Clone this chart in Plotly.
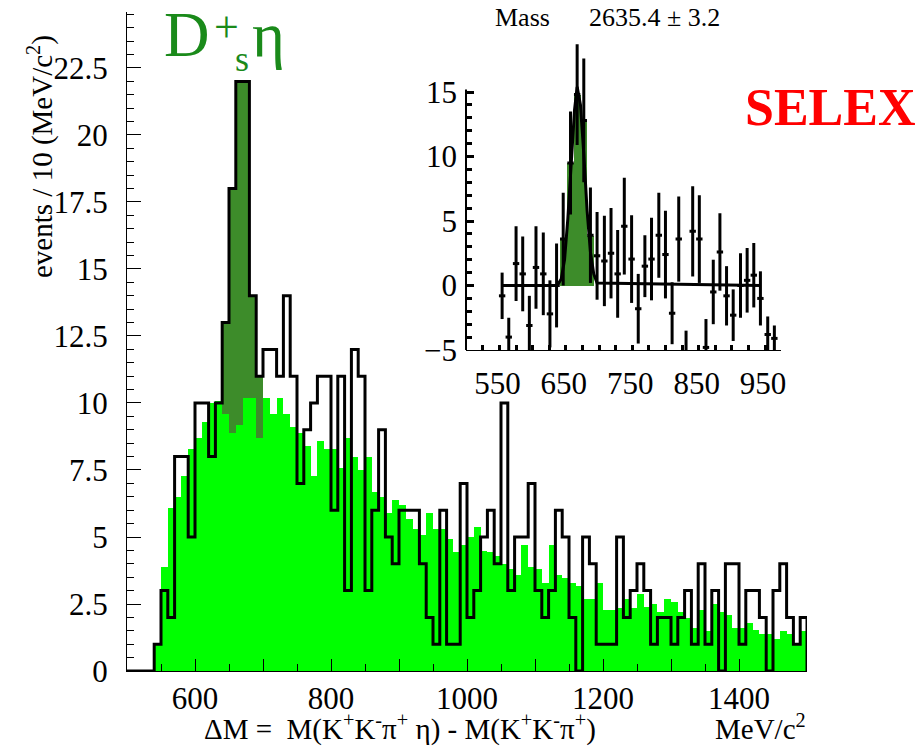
import plotly.graph_objects as go

W, H = 917, 746

# ---------------- main histogram data (10 MeV bins, lower edges 500..1490) ----------------
bin_lo = list(range(500, 1500, 10))
data_counts = [
    0, 0, 0, 0, 1, 3, 2, 8, 8, 5,            # 500-590
    10, 10, 8, 10, 13, 18, 22, 22, 14, 11,   # 600-690
    12, 12, 11, 14, 11, 7, 9, 10, 11, 11,    # 700-790
    6, 11, 3, 12, 11, 3, 6, 9, 5, 4,         # 800-890
    6, 6, 6, 4, 2, 1, 6, 1, 1, 7,            # 900-990
    2, 3, 5, 6, 4, 10, 3, 5, 5, 7,           # 1000-1090
    3, 2, 3, 6, 5, 2, 0, 5, 4, 1,            # 1100-1190
    1, 1, 5, 2, 3, 4, 3, 1, 2, 2,            # 1200-1290
    1, 2, 3, 1, 4, 1, 3, 0, 4, 4,            # 1300-1390
    1, 3, 3, 2, 0, 3, 4, 2, 1, 2,            # 1400-1490
]
background = [
    0, 0, 0, 0, 1.0, 3.9, 6.1, 6.5, 7.3, 8.3,
    8.7, 9.3, 10.0, 10.1, 9.6, 8.9, 9.2, 10.2, 10.2, 8.7,
    10.2, 9.6, 10.2, 9.6, 9.1, 8.9, 8.4, 7.3, 8.6, 8.3,
    8.3, 7.6, 8.7, 8.0, 7.5, 8.0, 6.7, 6.5, 5.9, 6.4,
    6.2, 5.7, 5.3, 5.1, 5.9, 5.3, 5.3, 4.95, 4.45, 4.7,
    5.0, 5.4, 4.5, 4.45, 4.3, 4.0, 3.8, 3.6, 4.7, 3.9,
    3.8, 3.3, 4.7, 3.6, 3.5, 3.3, 3.2, 2.7, 2.7, 3.3,
    2.3, 2.3, 2.35, 2.7, 2.35, 2.9, 2.4, 2.5, 2.2, 2.7,
    2.6, 2.2, 2.0, 1.6, 2.3, 1.5, 2.5, 2.2, 2.1, 1.6,
    1.6, 1.8, 1.55, 1.4, 1.4, 1.2, 1.5, 1.4, 1.0, 1.5,
]
signal_bins = [640, 650, 660, 670, 680, 690]

# ---------------- inset data (background-subtracted) ----------------
inset_x = [557, 567, 578, 588, 598, 608, 619, 629, 639, 649,
           660, 670, 680, 690, 700, 711, 721, 731, 741, 752,
           762, 772, 782, 793, 803, 813, 823, 834, 844, 854,
           864, 875, 885, 895, 905, 916, 926, 936, 946, 957, 967]
inset_y = [-0.8, -4.0, 1.7, 0.9, -3.1, 1.4, 0.9, -2.2, 0.0, 3.6,
           9.5, 14.8, 12.8, 3.9, 2.3, 1.9, 2.5, 0.9, 4.6, 2.05,
           -1.8, 1.5, 2.05, 3.9, 2.4, -2.15, 3.6, -5.5, 4.2, 3.6,
           -4.8, -0.5, 2.6, -0.8, -2.3, 0.0, 0.4, 0.8, -1.0, -3.8, -4.1]
inset_err = [1.8, 1.5, 2.9, 2.9, 2.3, 3.2, 3.2, 2.6, 3.25, 3.6,
             4.0, 3.9, 4.8, 3.7, 3.4, 3.5, 3.5, 3.4, 3.75, 3.4,
             2.7, 2.4, 3.2, 3.3, 3.4, 2.4, 3.3, 2.0, 3.5, 3.4,
             2.2, 2.5, 3.0, 2.3, 2.0, 2.5, 2.5, 2.5, 2.1, 1.4, 1.0]
fit_x = [557, 640, 646, 651, 656, 661, 666, 670, 675, 680, 685, 690, 695, 700, 946]
fit_y = [0, 0, 0.5, 2.0, 5.2, 9.6, 13.6, 15.4, 14.0, 10.2, 5.8, 2.6, 0.9, 0.2, 0]

# ---------------- layout helpers (pixels -> paper) ----------------
def px(x):
    return x / W

def py(y):
    return 1 - y / H

SERIF = "Liberation Serif"
DARK_GREEN = "#3d8c2a"
LIGHT_GREEN = "#00ff00"
LABEL_GREEN = "#1a8a1a"
FS = 31

centers = [b + 5 for b in bin_lo]
sig_idx = [bin_lo.index(b) for b in signal_bins]

fig = go.Figure()

fig.add_trace(go.Bar(
    x=[centers[i] for i in sig_idx], y=[data_counts[i] for i in sig_idx],
    width=10, marker=dict(color=DARK_GREEN, line=dict(width=0)),
    xaxis="x", yaxis="y", showlegend=False, hoverinfo="skip"))
fig.add_trace(go.Bar(
    x=centers, y=background, width=10,
    marker=dict(color=LIGHT_GREEN, line=dict(width=0)),
    xaxis="x", yaxis="y", showlegend=False, hoverinfo="skip"))
edges = bin_lo + [1500]
fig.add_trace(go.Scatter(
    x=edges, y=data_counts + [0], mode="lines", line=dict(color="black", width=3, shape="hv"),
    xaxis="x", yaxis="y", showlegend=False, hoverinfo="skip"))

# ---------------- inset ----------------
sig_inset = list(range(9, 14))
fig.add_trace(go.Bar(
    x=[inset_x[i] for i in sig_inset], y=[inset_y[i] for i in sig_inset],
    width=10.25, marker=dict(color=DARK_GREEN, line=dict(width=0)),
    xaxis="x2", yaxis="y2", showlegend=False, hoverinfo="skip"))
fig.add_trace(go.Scatter(
    x=fit_x, y=fit_y, mode="lines", line=dict(color="black", width=3),
    xaxis="x2", yaxis="y2", showlegend=False, hoverinfo="skip"))
fig.add_trace(go.Scatter(
    x=inset_x, y=inset_y, mode="markers",
    marker=dict(size=1, color="black"),
    error_y=dict(type="data", array=inset_err, color="black", thickness=3, width=0),
    error_x=dict(type="constant", value=4.8, color="black", thickness=3, width=0),
    xaxis="x2", yaxis="y2", showlegend=False, hoverinfo="skip"))

x_major = [600, 700, 800, 900, 1000, 1100, 1200, 1300, 1400]
x_labels = ["600", "", "800", "", "1000", "", "1200", "", "1400"]
y_major = [0, 2.5, 5, 7.5, 10, 12.5, 15, 17.5, 20, 22.5]
y_labels = ["0", "2.5", "5", "7.5", "10", "12.5", "15", "17.5", "20", "22.5"]

tickfont = dict(family=SERIF, size=FS, color="black")


def label(text, x, y, size, color="black", xanchor="left", yanchor="middle", angle=0):
    return dict(text=text, x=px(x), y=py(y), xref="paper", yref="paper",
                xanchor=xanchor, yanchor=yanchor, textangle=angle, showarrow=False,
                font=dict(family=SERIF, size=size, color=color))


fig.update_layout(
    width=W, height=H,
    margin=dict(l=0, r=0, t=0, b=0, autoexpand=False),
    paper_bgcolor="white", plot_bgcolor="rgba(0,0,0,0)",
    barmode="overlay", bargap=0,
    xaxis=dict(domain=[px(127), px(807)], range=[500, 1500], anchor="y", automargin=False,
               showline=True, linecolor="black", linewidth=1,
               showgrid=False, zeroline=False,
               ticks="inside", tickvals=x_major, ticktext=x_labels, ticklen=12,
               tickcolor="black", tickwidth=1,
               minor=dict(tickvals=[550, 650, 750, 850, 950, 1050, 1150, 1250, 1350, 1450],
                          ticklen=7, tickcolor="black", ticks="inside", showgrid=False),
               tickfont=tickfont, ticklabelstandoff=0),
    yaxis=dict(domain=[py(671), py(11.7)], range=[0, 24.6], anchor="x", automargin=False,
               showline=True, linecolor="black", linewidth=1,
               showgrid=False, zeroline=False,
               ticks="inside", tickvals=y_major, ticktext=y_labels, ticklen=14,
               tickcolor="black", tickwidth=1,
               minor=dict(dtick=0.5, tick0=0, ticklen=7, tickcolor="black", ticks="inside", showgrid=False),
               tickfont=tickfont, ticklabelstandoff=12),
    xaxis2=dict(domain=[px(466), px(781)], range=[502.6, 977], anchor="y2", automargin=False,
                showline=True, linecolor="black", linewidth=1,
                showgrid=False, zeroline=False,
                ticks="", tickvals=[550, 650, 750, 850, 950],
                minor=dict(tickvals=[528, 553, 578, 603, 628, 653, 678, 703, 728, 753, 778,
                                     803, 828, 853, 878, 903, 928, 953, 978],
                           ticklen=5, tickwidth=3, tickcolor="black", ticks="inside", showgrid=False),
                tickfont=tickfont, ticklabelstandoff=6),
    yaxis2=dict(domain=[py(350), py(32.7)], range=[-5, 19.6], anchor="x2", automargin=False,
                showline=False, showgrid=False, zeroline=False,
                ticks="inside", tickvals=[-5, 0, 5, 10, 15], ticklen=8, tickwidth=3, tickcolor="black",
                minor=dict(tickvals=list(range(-4, 16)), ticklen=6, tickwidth=3,
                           tickcolor="black", ticks="inside", showgrid=False),
                tickfont=tickfont, ticklabelstandoff=8),
    shapes=[dict(type="line", xref="x2 domain", yref="y2", x0=0, x1=0, y0=-5, y1=15.2,
                 line=dict(color="black", width=2))],
    annotations=[
        # D_s^+ eta, composed of pieces so the super/subscripts sit like the original
        label("D", 162, 72, 63, LABEL_GREEN, yanchor="bottom"),
        label("+", 212, 27, 44, LABEL_GREEN, yanchor="middle"),
        label("s", 233, 81, 36, LABEL_GREEN, yanchor="bottom"),
        label("η", 250, 72, 63, LABEL_GREEN, yanchor="bottom"),
        label("<b>SELEX</b>", 743, 108, 52, "#ff0000"),
        label("Mass &nbsp;&nbsp;&nbsp;&nbsp; 2635.4 ± 3.2", 493, 17, 26),
        label("events / 10 (MeV/c<sup>2</sup>)", 40, 157, 29, xanchor="center", angle=-90),
        label("ΔM = &nbsp;M(K<sup>+</sup>K<sup>-</sup>π<sup>+</sup> η) - M(K<sup>+</sup>K<sup>-</sup>π<sup>+</sup>)",
              400, 727, 29, xanchor="center"),
        label("MeV/c<sup>2</sup>", 808, 727, 29, xanchor="right"),
    ],
)

fig.write_html("out.html")
